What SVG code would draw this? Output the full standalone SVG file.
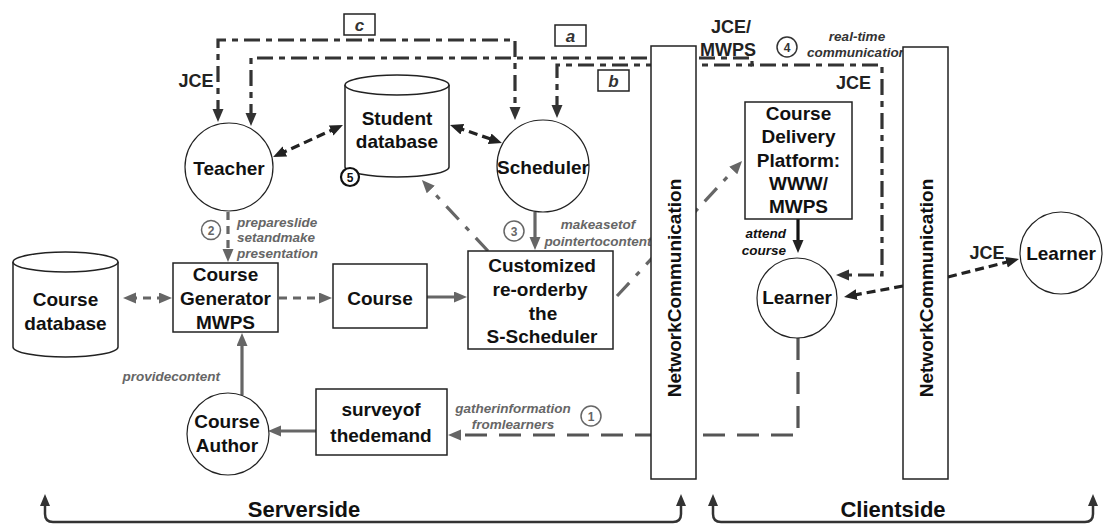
<svg xmlns="http://www.w3.org/2000/svg" width="1103" height="530" viewBox="0 0 1103 530">
<style>
  .lbl{font-family:"Liberation Sans",Arial,sans-serif;font-weight:bold;font-size:19px;fill:#111;text-anchor:middle}
  .it{font-family:"Liberation Sans",Arial,sans-serif;font-weight:bold;font-style:italic;font-size:13.5px;fill:#666}
  .box{fill:#fff;stroke:#222;stroke-width:1.5}
  .circ{fill:#fff;stroke:#222;stroke-width:1.2}
  .num{font-family:"Liberation Sans",Arial,sans-serif;font-weight:bold;font-size:12px;text-anchor:middle}
  .blkdash{fill:none;stroke:#222;stroke-width:3.2;stroke-dasharray:9,5}
  .graydash{fill:none;stroke:#666;stroke-width:3.2;stroke-dasharray:8,6}
  .graysolid{fill:none;stroke:#666;stroke-width:3.2}
  .blksolid{fill:none;stroke:#111;stroke-width:3.2}
  .graydot{fill:none;stroke:#666;stroke-width:3.2;stroke-dasharray:18,10,5,10}
  .topline{fill:none;stroke:#333;stroke-width:3.2;stroke-dasharray:16,6,6,6}
  .longdash{fill:none;stroke:#555;stroke-width:3.2;stroke-dasharray:22,12}
  .brk{fill:none;stroke:#333;stroke-width:2.5}
</style>
<defs>
  <marker id="ab" markerUnits="userSpaceOnUse" markerWidth="14" markerHeight="12" refX="7" refY="5.5" orient="auto-start-reverse"><path d="M0,0 L13,5.5 L0,11 z" fill="#222"/></marker>
  <marker id="ag" markerUnits="userSpaceOnUse" markerWidth="14" markerHeight="12" refX="7" refY="5.5" orient="auto-start-reverse"><path d="M0,0 L13,5.5 L0,11 z" fill="#666"/></marker>
  <marker id="ad" markerUnits="userSpaceOnUse" markerWidth="14" markerHeight="12" refX="7" refY="5.5" orient="auto-start-reverse"><path d="M0,0 L13,5.5 L0,11 z" fill="#333"/></marker>
</defs>

<g id="connectors">
  <path class="topline" d="M218,116 V40 H515 V114" marker-start="url(#ad)" marker-end="url(#ad)"/>
  <path class="topline" d="M251,120 V58 H752 V65 H882 V275 H842" marker-start="url(#ad)" marker-end="url(#ad)"/>
  <path class="topline" d="M557,112 V65 H752" marker-start="url(#ad)"/>
  <path class="blkdash" d="M278.5,154.5 L337.5,127.5" marker-start="url(#ab)" marker-end="url(#ab)"/>
  <path class="blkdash" d="M455.7,127 L496.3,141" marker-start="url(#ab)" marker-end="url(#ab)"/>
  <path class="graydot" d="M488,251 L426,184.4" marker-end="url(#ag)"/>
  <path class="graydot" d="M617,296 L738,165.4" marker-end="url(#ag)"/>
  <path class="graydash" d="M129,298 H166" marker-start="url(#ag)" marker-end="url(#ag)"/>
  <path class="graydash" d="M279,298 H326" marker-end="url(#ag)"/>
  <path class="graysolid" d="M427,297 H461" marker-end="url(#ag)"/>
  <path class="graydash" d="M228,212 V256" marker-end="url(#ag)"/>
  <path class="graysolid" d="M535,212 V244" marker-end="url(#ag)"/>
  <path class="graysolid" d="M242,395 V339" marker-end="url(#ag)"/>
  <path class="graysolid" d="M316,431 H274" marker-end="url(#ag)"/>
  <path class="longdash" d="M798,338 V435 H454" marker-end="url(#ag)"/>
  <path class="blksolid" d="M798,219 V247" marker-end="url(#ab)"/>
  <path class="blkdash" d="M903,286 L849.9,295.9" marker-end="url(#ab)"/>
  <path class="blkdash" d="M948,277 L1013.2,260.5" marker-end="url(#ab)"/>
  <path class="brk" d="M45,506 V514 Q45,522 53,522 H673 Q681,522 681,514 V506"/>
  <path d="M40,506 L45,494 L50,506 z M676,506 L681,494 L686,506 z" fill="#333"/>
  <path class="brk" d="M713,506 V514 Q713,522 721,522 H1085 Q1093,522 1093,514 V506"/>
  <path d="M708,506 L713,494 L718,506 z M1088,506 L1093,494 L1098,506 z" fill="#333"/>
</g>

<g id="labels">
  <rect class="box" x="344" y="14" width="31" height="21" stroke-width="1.8"/>
  <text class="it" x="359.5" y="31" style="font-size:17px;fill:#333;text-anchor:middle">c</text>
  <rect class="box" x="555" y="25" width="31" height="21" stroke-width="1.8"/>
  <text class="it" x="570.5" y="42" style="font-size:17px;fill:#333;text-anchor:middle">a</text>
  <rect class="box" x="598" y="70" width="31" height="21" stroke-width="1.8"/>
  <text class="it" x="613.5" y="87" style="font-size:17px;fill:#333;text-anchor:middle">b</text>
  <text class="lbl" x="196" y="87" style="font-size:18px;fill:#222">JCE</text>
  <text class="lbl" x="731" y="33" style="font-size:18px;fill:#222">JCE/</text>
  <text class="lbl" x="728" y="56" style="font-size:18px;fill:#222">MWPS</text>
  <circle cx="787" cy="47" r="10" fill="#fff" stroke="#333" stroke-width="1.5"/>
  <text class="num" x="787" y="51.5" fill="#333">4</text>
  <text class="it" x="857" y="41" style="fill:#333;text-anchor:middle">real-time</text>
  <text class="it" x="857" y="57" style="fill:#333;text-anchor:middle">communication</text>
  <text class="lbl" x="871" y="89" style="font-size:18px;fill:#222;text-anchor:end">JCE</text>
  <circle cx="211" cy="230" r="9.5" fill="#fff" stroke="#666" stroke-width="1.5"/>
  <text class="num" x="211" y="234.5" fill="#666">2</text>
  <text class="it" x="237" y="227">prepareslide</text>
  <text class="it" x="237" y="242">setandmake</text>
  <text class="it" x="237" y="258">presentation</text>
  <circle cx="514" cy="231" r="10" fill="#fff" stroke="#666" stroke-width="1.5"/>
  <text class="num" x="514" y="235.5" fill="#666">3</text>
  <text class="it" x="598" y="229" style="text-anchor:middle">makeasetof</text>
  <text class="it" x="598" y="246" style="text-anchor:middle">pointertocontent</text>
  <text class="it" x="220" y="381" style="text-anchor:end">providecontent</text>
  <text class="it" x="513" y="413" style="text-anchor:middle">gatherinformation</text>
  <text class="it" x="513" y="429" style="text-anchor:middle">fromlearners</text>
  <circle cx="591" cy="416" r="10" fill="#fff" stroke="#666" stroke-width="1.5"/>
  <text class="num" x="591" y="420.5" fill="#666">1</text>
  <text class="it" x="786" y="238" style="fill:#111;text-anchor:end">attend</text>
  <text class="it" x="786" y="255" style="fill:#111;text-anchor:end">course</text>
  <text class="lbl" x="987" y="259" style="font-size:18px;fill:#222">JCE</text>
  <text class="lbl" x="304" y="517" style="font-size:22px">Serverside</text>
  <text class="lbl" x="893" y="517" style="font-size:22px">Clientside</text>
</g>

<g id="teacher">
  <circle class="circ" cx="229" cy="167" r="44"/>
  <text class="lbl" x="229" y="175">Teacher</text>
</g>
<g id="student-db">
  <path d="M345,85 V167 A52,10 0 0 0 449,167 V85" fill="#fff" stroke="#222" stroke-width="1.5"/>
  <ellipse cx="397" cy="85" rx="52" ry="10" fill="#fff" stroke="#222" stroke-width="1.5"/>
  <text class="lbl" x="397" y="125">Student</text>
  <text class="lbl" x="397" y="148">database</text>
  <circle cx="350" cy="177" r="9" fill="#fff" stroke="#111" stroke-width="2.2"/>
  <text class="num" x="350" y="181.5" fill="#111">5</text>
</g>
<g id="scheduler">
  <circle class="circ" cx="543" cy="166" r="46"/>
  <text class="lbl" x="543" y="174">Scheduler</text>
</g>
<g id="course-db">
  <path d="M13,262 V347 A52.5,10 0 0 0 118,347 V262" fill="#fff" stroke="#222" stroke-width="1.5"/>
  <ellipse cx="65.5" cy="262" rx="52.5" ry="10" fill="#fff" stroke="#222" stroke-width="1.5"/>
  <text class="lbl" x="65.5" y="306">Course</text>
  <text class="lbl" x="65.5" y="330">database</text>
</g>
<g id="course-generator">
  <rect class="box" x="173" y="263" width="105" height="69"/>
  <text class="lbl" x="225.5" y="281">Course</text>
  <text class="lbl" x="225.5" y="305">Generator</text>
  <text class="lbl" x="225.5" y="329">MWPS</text>
</g>
<g id="course">
  <rect class="box" x="333" y="264" width="94" height="64"/>
  <text class="lbl" x="380" y="305">Course</text>
</g>
<g id="customized">
  <rect class="box" x="468" y="251" width="145" height="98"/>
  <text class="lbl" x="542" y="272">Customized</text>
  <text class="lbl" x="540" y="296">re-orderby</text>
  <text class="lbl" x="543" y="320">the</text>
  <text class="lbl" x="542" y="343">S-Scheduler</text>
</g>
<g id="course-author">
  <circle class="circ" cx="228" cy="434" r="41"/>
  <text class="lbl" x="227" y="428">Course</text>
  <text class="lbl" x="227" y="452">Author</text>
</g>
<g id="survey">
  <rect class="box" x="316" y="389" width="131" height="66"/>
  <text class="lbl" x="381" y="416">surveyof</text>
  <text class="lbl" x="381" y="442">thedemand</text>
</g>
<g id="network-1">
  <rect class="box" x="651" y="46" width="45" height="433"/>
  <text class="lbl" transform="translate(681,288) rotate(-90)">NetworkCommunication</text>
</g>
<g id="network-2">
  <rect class="box" x="903" y="47" width="45" height="432"/>
  <text class="lbl" transform="translate(933,288) rotate(-90)">NetworkCommunication</text>
</g>
<g id="course-delivery">
  <rect class="box" x="745" y="102" width="107" height="117"/>
  <text class="lbl" x="798.5" y="120">Course</text>
  <text class="lbl" x="798.5" y="143">Delivery</text>
  <text class="lbl" x="798.5" y="167">Platform:</text>
  <text class="lbl" x="798.5" y="190">WWW/</text>
  <text class="lbl" x="798.5" y="213">MWPS</text>
</g>
<g id="learner-client">
  <circle class="circ" cx="797" cy="298" r="40"/>
  <text class="lbl" x="797" y="304">Learner</text>
</g>
<g id="learner-remote">
  <circle class="circ" cx="1061" cy="253" r="41"/>
  <text class="lbl" x="1061" y="260">Learner</text>
</g>
</svg>
